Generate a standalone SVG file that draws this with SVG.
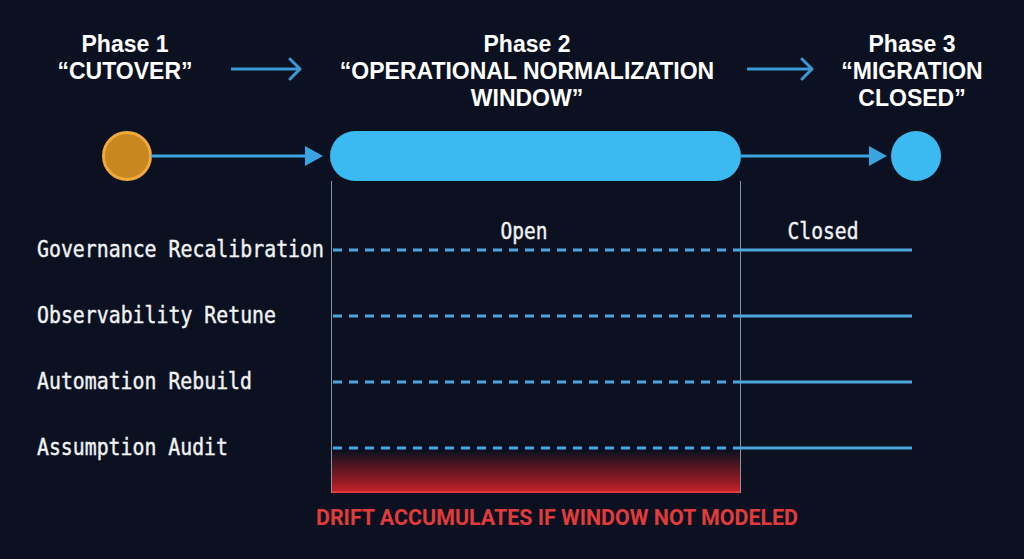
<svg xmlns="http://www.w3.org/2000/svg" width="1024" height="559" viewBox="0 0 1024 559">
  <defs>
    <style>
      .title { font-family: "Liberation Sans", Arial, sans-serif; font-weight: 700; font-size: 23px; fill: #ffffff; text-anchor: middle; }
      .mono { font-family: "DejaVu Sans Mono", "Liberation Mono", monospace; font-size: 22.5px; fill: #f1f3f6; stroke: #f1f3f6; stroke-width: 0.4px; }
      .mono-c { font-family: "DejaVu Sans Mono", "Liberation Mono", monospace; font-size: 22.5px; fill: #f1f3f6; stroke: #f1f3f6; stroke-width: 0.4px; text-anchor: middle; }
      .warn { font-family: "Roboto", "Liberation Sans", Arial, sans-serif; font-weight: 700; font-size: 21.5px; fill: #e23b3b; text-anchor: middle; }
      .flow { stroke: #3ba3df; stroke-width: 3; fill: none; }
      .top-arrow { stroke: #3b9ad6; stroke-width: 3; fill: none; }
      .dashed { stroke: #4aa6dc; stroke-width: 3; stroke-dasharray: 9 7; fill: none; }
      .solid { stroke: #4aa6dc; stroke-width: 3; fill: none; }
      .divider { stroke: #8a93a4; stroke-width: 1; fill: none; }
    </style>
    <marker id="tri" viewBox="0 0 18 20" markerUnits="userSpaceOnUse" markerWidth="18" markerHeight="20" refX="3" refY="10" orient="auto">
      <path d="M0,0 L18,10 L0,20 z" fill="#3ba3df"/>
    </marker>
    <marker id="chev" viewBox="-2 -2 14 24" markerUnits="userSpaceOnUse" markerWidth="14" markerHeight="24" refX="10" refY="10" orient="auto">
      <path d="M0,0 L10,10 L0,20" fill="none" stroke="#3b9ad6" stroke-width="3" stroke-linecap="round" stroke-linejoin="round"/>
    </marker>
    <linearGradient id="drift" x1="0" y1="0" x2="0" y2="1">
      <stop offset="0" stop-color="#5a1420" stop-opacity="0.15"/>
      <stop offset="0.35" stop-color="#6e1722" stop-opacity="0.75"/>
      <stop offset="1" stop-color="#cf2228" stop-opacity="1"/>
    </linearGradient>
  </defs>

  <rect x="0" y="0" width="1024" height="559" fill="#0b1120"/>

  <!-- Phase labels -->
  <g id="phase1-label">
    <text class="title" x="125" y="52">Phase 1</text>
    <text class="title" x="125" y="79">“CUTOVER”</text>
  </g>
  <g id="phase2-label">
    <text class="title" x="527" y="52">Phase 2</text>
    <text class="title" x="527" y="79">“OPERATIONAL NORMALIZATION</text>
    <text class="title" x="527" y="106">WINDOW”</text>
  </g>
  <g id="phase3-label">
    <text class="title" x="912" y="52">Phase 3</text>
    <text class="title" x="912" y="79">“MIGRATION</text>
    <text class="title" x="912" y="106">CLOSED”</text>
  </g>

  <!-- Window drift area and dividers -->
  <g id="drift-zone">
    <rect x="331" y="452" width="409" height="41" fill="url(#drift)"/>
    <line x1="331" y1="492" x2="740" y2="492" stroke="#e0393b" stroke-width="2"/>
  </g>
  <g id="dividers">
    <line class="divider" x1="331.5" y1="181" x2="331.5" y2="493"/>
    <line class="divider" x1="740.5" y1="181" x2="740.5" y2="493"/>
  </g>

  <!-- Nodes -->
  <g id="node-cutover">
    <circle cx="127" cy="156" r="23.5" fill="#c8871f" stroke="#f0a93c" stroke-width="3"/>
  </g>
  <g id="node-window">
    <rect x="330" y="131" width="411" height="50" rx="25" ry="25" fill="#3bb9f1"/>
  </g>
  <g id="node-closed">
    <circle cx="916" cy="156" r="25" fill="#3bb9f1"/>
  </g>

  <!-- Connectors -->
  <g id="connectors">
    <line class="top-arrow" x1="231" y1="69" x2="300" y2="69" marker-end="url(#chev)"/>
    <line class="top-arrow" x1="747" y1="69" x2="812" y2="69" marker-end="url(#chev)"/>
    <line class="flow" x1="151" y1="156" x2="308" y2="156" marker-end="url(#tri)"/>
    <line class="flow" x1="741" y1="156" x2="872" y2="156" marker-end="url(#tri)"/>
  </g>

  <!-- Column headers -->
  <g id="state-labels">
    <text class="mono-c" x="524" y="239" textLength="47" lengthAdjust="spacingAndGlyphs">Open</text>
    <text class="mono-c" x="823" y="239" textLength="71" lengthAdjust="spacingAndGlyphs">Closed</text>
  </g>

  <!-- Rows -->
  <g id="row-governance">
    <text class="mono" x="37" y="257" textLength="287" lengthAdjust="spacingAndGlyphs">Governance Recalibration</text>
    <line class="dashed" x1="333" y1="250" x2="740" y2="250"/>
    <line class="solid" x1="740" y1="250" x2="912" y2="250"/>
  </g>
  <g id="row-observability">
    <text class="mono" x="37" y="323" textLength="239" lengthAdjust="spacingAndGlyphs">Observability Retune</text>
    <line class="dashed" x1="333" y1="316" x2="740" y2="316"/>
    <line class="solid" x1="740" y1="316" x2="912" y2="316"/>
  </g>
  <g id="row-automation">
    <text class="mono" x="37" y="389" textLength="215" lengthAdjust="spacingAndGlyphs">Automation Rebuild</text>
    <line class="dashed" x1="333" y1="382" x2="740" y2="382"/>
    <line class="solid" x1="740" y1="382" x2="912" y2="382"/>
  </g>
  <g id="row-assumption">
    <text class="mono" x="37" y="455" textLength="191" lengthAdjust="spacingAndGlyphs">Assumption Audit</text>
    <line class="dashed" x1="333" y1="448" x2="740" y2="448"/>
    <line class="solid" x1="740" y1="448" x2="912" y2="448"/>
  </g>

  <g id="warning">
    <text class="warn" x="557" y="525" textLength="482" lengthAdjust="spacingAndGlyphs">DRIFT ACCUMULATES IF WINDOW NOT MODELED</text>
  </g>
</svg>
